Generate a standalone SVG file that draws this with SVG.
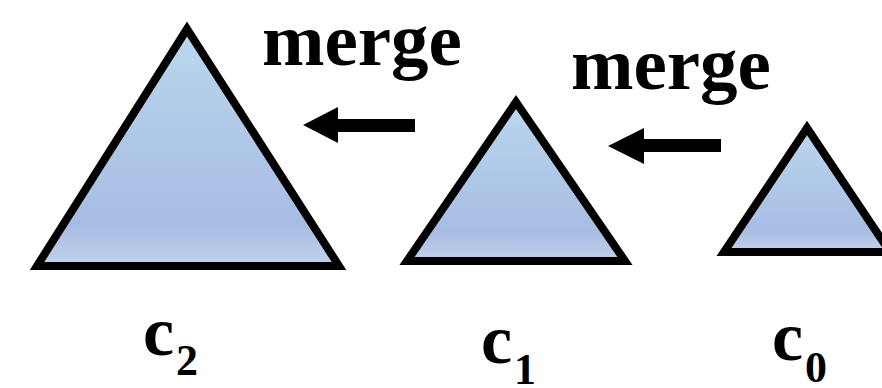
<svg xmlns="http://www.w3.org/2000/svg" width="882" height="388" viewBox="0 0 882 388">
<defs>
<linearGradient id="g" x1="0" y1="0" x2="0" y2="1">
<stop offset="0" stop-color="#bbd7ee"/>
<stop offset="0.82" stop-color="#a7bce3"/>
<stop offset="1" stop-color="#c3d2ec"/>
</linearGradient>
<style>
.tri{fill:url(#g);stroke:#000;stroke-width:8;stroke-linejoin:miter;stroke-miterlimit:10}
.t{font-family:"Liberation Serif","Times New Roman",serif;font-weight:bold;fill:#000}
.lbl{font-size:75px}
.c{font-size:70px}
.sub{font-size:44px}
.arr{fill:#000}
</style>
</defs>
<g id="c2">
<polygon class="tri" points="187,29 37,266 339,266"/>
<text class="t c" x="143" y="355">c<tspan class="sub" dx="2" dy="20">2</tspan></text>
</g>
<g id="c1">
<polygon class="tri" points="516,102 407,261 625,261"/>
<text class="t c" x="481" y="363">c<tspan class="sub" dx="2" dy="21">1</tspan></text>
</g>
<g id="c0">
<polygon class="tri" points="807,128 724,252 890,252"/>
<text class="t c" x="772" y="360">c<tspan class="sub" dx="2" dy="22">0</tspan></text>
</g>
<g id="connectors">
<polygon class="arr" points="303,125 338,107 338,119 415,119 415,132 338,132 338,143"/>
<text class="t lbl" x="262" y="65">merge</text>
<polygon class="arr" points="608,146 644,128 644,139 721,139 721,152 644,152 644,164"/>
<text class="t lbl" x="571" y="89">merge</text>
</g>
</svg>
